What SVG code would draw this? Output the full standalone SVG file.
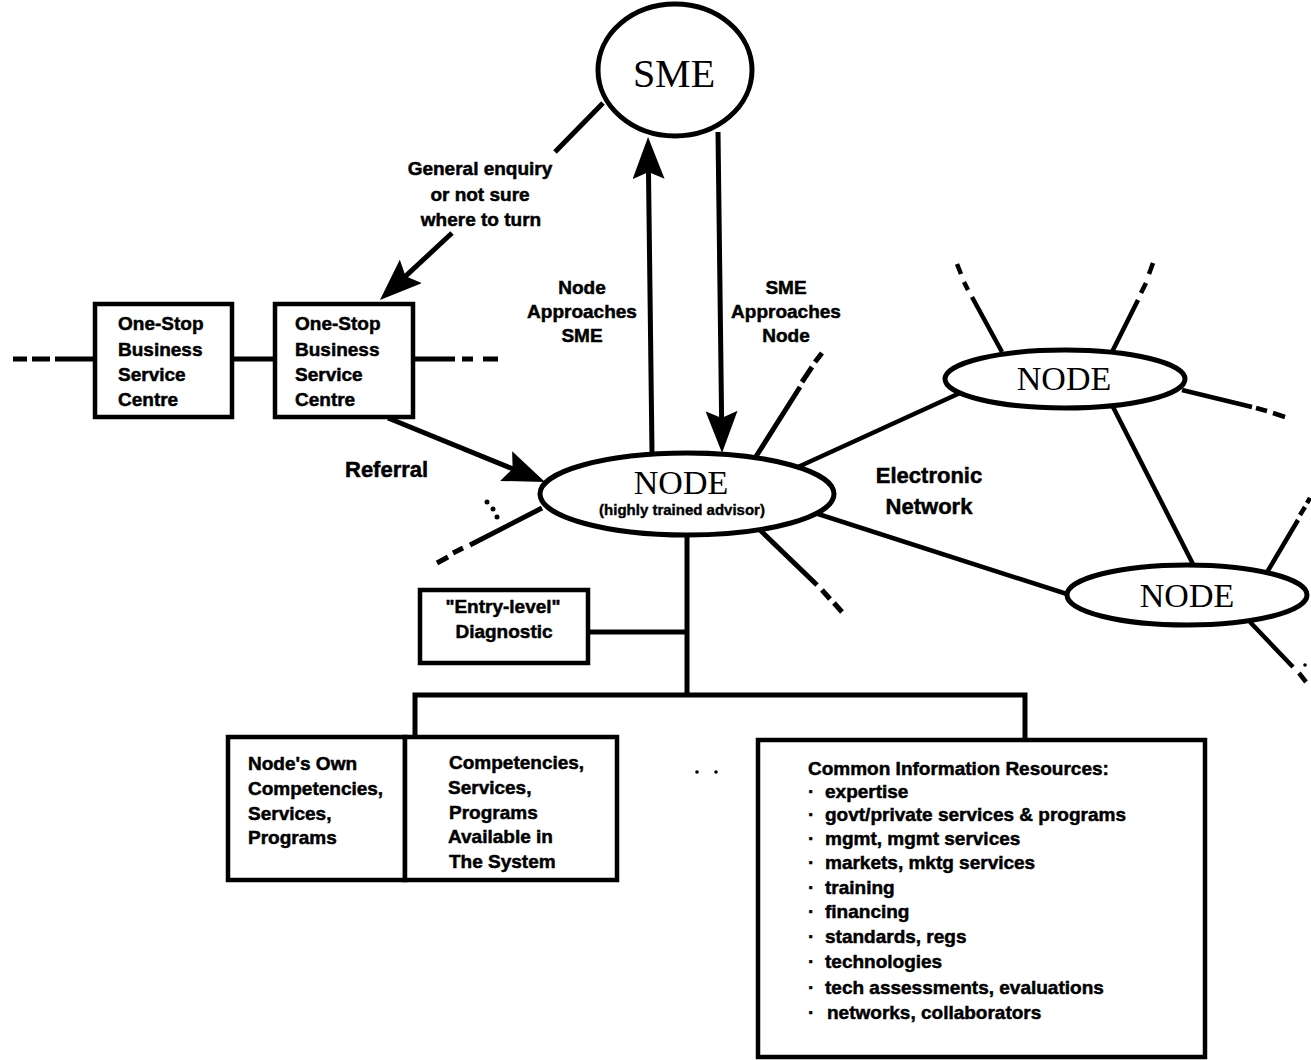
<svg xmlns="http://www.w3.org/2000/svg" width="1311" height="1060" viewBox="0 0 1311 1060">
<defs>
<style>
.ln{stroke:#000;stroke-width:5;fill:none;stroke-linecap:butt}
.net{stroke-width:4.5}
.shape{fill:#fff;stroke:#000;stroke-width:5}
.box{fill:#fff;stroke:#000;stroke-width:4.5}
.lbl{font-family:"Liberation Sans",Arial,sans-serif;font-weight:700;font-size:19px;fill:#000;stroke:#000;stroke-width:0.5}
.big{font-size:22px}
.tiny{font-size:15px;stroke-width:0.4}
.mid{text-anchor:middle}
.serif{font-family:"Liberation Serif","Times New Roman",serif;fill:#000;text-anchor:middle}
.dot{fill:#000}
</style>
<marker id="head" viewBox="0 0 42 32" markerWidth="42" markerHeight="32" refX="22" refY="16" orient="auto" markerUnits="userSpaceOnUse">
<path d="M0,0 L42,16 L0,32 L7,16 z" fill="#000"/>
</marker>
</defs>
<rect width="1311" height="1060" fill="#fff"/>

<!-- connectors -->
<g id="connectors">
  <!-- SME side: enquiry leader and arrow into the service centre -->
  <path class="ln" d="M603,103 L555,152"/>
  <path class="ln" d="M452,233 L394.6,286.4" marker-end="url(#head)"/>
  <!-- node approaches SME / SME approaches node -->
  <path class="ln" d="M652,453 L648.3,157" marker-end="url(#head)"/>
  <path class="ln" d="M718,132 L721.8,433" marker-end="url(#head)"/>
  <!-- referral -->
  <path class="ln" d="M388,418 L526.5,474.4" marker-end="url(#head)"/>
  <!-- chain of service centres -->
  <path class="ln" d="M13,359 H27 M32,359 H50 M55,359 H95"/>
  <path class="ln" d="M232,359 H275"/>
  <path class="ln" d="M413,359 H455 M462,359 H473 M483,359 H498"/>
  <!-- spokes of the central node -->
  <path class="ln" d="M755,458 L800,387 M802,382 L812,367 M815,362 L822,353"/>
  <path class="ln" d="M760,530 L817,585 M822,590 L830,599 M834,603 L842,612"/>
  <path class="ln" d="M542,508 L470,545 M463,548 L453,553 M448,557 L437,563"/>
  <circle class="dot" cx="487" cy="502" r="2.5"/>
  <circle class="dot" cx="493" cy="509" r="2.5"/>
  <circle class="dot" cx="497" cy="517" r="2.5"/>
  <!-- electronic network -->
  <path class="ln net" d="M798,467 L960,393"/>
  <path class="ln net" d="M815,513 L1070,595"/>
  <path class="ln net" d="M1112,405 L1196,570"/>
  <!-- spokes of the upper node -->
  <path class="ln net" d="M1002,352 L972,297 M968,290 L964,282 M961,274 L957,264"/>
  <path class="ln net" d="M1112,352 L1138,300 M1141,293 L1146,283 M1149,274 L1153,263"/>
  <path class="ln net" d="M1182,390 L1252,407 M1256,408 L1267,411 M1273,413 L1285,417"/>
  <!-- spokes of the lower node -->
  <path class="ln net" d="M1266,574 L1298,520 M1300,515 L1305,507 M1307,503 L1310,498"/>
  <path class="ln net" d="M1250,622 L1293,667 M1299,673 L1306,682"/>
  <circle class="dot" cx="1305" cy="665" r="1.8"/>
  <!-- node to its resources -->
  <path class="ln" d="M687,530 V695"/>
  <path class="ln" d="M588,632 H687"/>
  <path class="ln" d="M415,737 V695 H1025 V740"/>
  <circle class="dot" cx="697" cy="772" r="1.8"/>
  <circle class="dot" cx="716" cy="772" r="1.8"/>
</g>

<g id="sme">
  <ellipse class="shape" cx="675" cy="70" rx="77" ry="66"/>
  <text class="serif" x="674" y="87" font-size="40">SME</text>
</g>

<g id="enquiry-label">
  <text class="lbl mid" x="480" y="175">General enquiry</text>
  <text class="lbl mid" x="480" y="201">or not sure</text>
  <text class="lbl mid" x="481" y="226">where to turn</text>
</g>

<g id="node-approaches-label">
  <text class="lbl mid" x="582" y="294">Node</text>
  <text class="lbl mid" x="582" y="318">Approaches</text>
  <text class="lbl mid" x="582" y="342">SME</text>
</g>

<g id="sme-approaches-label">
  <text class="lbl mid" x="786" y="294">SME</text>
  <text class="lbl mid" x="786" y="318">Approaches</text>
  <text class="lbl mid" x="786" y="342">Node</text>
</g>

<g id="centre-1">
  <rect class="box" x="95" y="304" width="137" height="113"/>
  <text class="lbl" x="118" y="330">One-Stop</text>
  <text class="lbl" x="118" y="356">Business</text>
  <text class="lbl" x="118" y="381">Service</text>
  <text class="lbl" x="118" y="406">Centre</text>
</g>

<g id="centre-2">
  <rect class="box" x="275" y="304" width="138" height="113"/>
  <text class="lbl" x="295" y="330">One-Stop</text>
  <text class="lbl" x="295" y="356">Business</text>
  <text class="lbl" x="295" y="381">Service</text>
  <text class="lbl" x="295" y="406">Centre</text>
</g>

<g id="referral-label">
  <text class="lbl big" x="345" y="477">Referral</text>
</g>

<g id="node-main">
  <ellipse class="shape" cx="687" cy="494" rx="147" ry="41"/>
  <text class="serif" x="681" y="494" font-size="34">NODE</text>
  <text class="lbl tiny mid" x="682" y="515">(highly trained advisor)</text>
</g>

<g id="network-label">
  <text class="lbl big mid" x="929" y="483">Electronic</text>
  <text class="lbl big mid" x="929" y="514">Network</text>
</g>

<g id="node-upper">
  <ellipse class="shape" cx="1065" cy="379" rx="120" ry="29"/>
  <text class="serif" x="1064" y="390" font-size="34">NODE</text>
</g>

<g id="node-lower">
  <ellipse class="shape" cx="1187" cy="595" rx="120" ry="30"/>
  <text class="serif" x="1187" y="607" font-size="34">NODE</text>
</g>

<g id="diagnostic">
  <rect class="box" x="420" y="590" width="168" height="73"/>
  <text class="lbl mid" x="503" y="613">"Entry-level"</text>
  <text class="lbl mid" x="504" y="638">Diagnostic</text>
</g>

<g id="own-competencies">
  <rect class="box" x="228" y="737" width="177" height="143"/>
  <text class="lbl" x="248" y="770">Node's Own</text>
  <text class="lbl" x="248" y="795">Competencies,</text>
  <text class="lbl" x="248" y="820">Services,</text>
  <text class="lbl" x="248" y="844">Programs</text>
</g>

<g id="system-competencies">
  <rect class="box" x="405" y="737" width="212" height="143"/>
  <text class="lbl" x="449" y="769">Competencies,</text>
  <text class="lbl" x="448" y="794">Services,</text>
  <text class="lbl" x="449" y="819">Programs</text>
  <text class="lbl" x="448" y="843">Available in</text>
  <text class="lbl" x="449" y="868">The System</text>
</g>

<g id="common-resources">
  <rect class="box" x="758" y="740" width="447" height="317"/>
  <text class="lbl" x="808" y="775">Common Information Resources:</text>
  <text class="lbl" x="808" y="798">·<tspan x="825">expertise</tspan></text>
  <text class="lbl" x="808" y="821">·<tspan x="825">govt/private services &amp; programs</tspan></text>
  <text class="lbl" x="808" y="845">·<tspan x="825">mgmt, mgmt services</tspan></text>
  <text class="lbl" x="808" y="869">·<tspan x="825">markets, mktg services</tspan></text>
  <text class="lbl" x="808" y="894">·<tspan x="825">training</tspan></text>
  <text class="lbl" x="808" y="918">·<tspan x="825">financing</tspan></text>
  <text class="lbl" x="808" y="943">·<tspan x="825">standards, regs</tspan></text>
  <text class="lbl" x="808" y="968">·<tspan x="825">technologies</tspan></text>
  <text class="lbl" x="808" y="994">·<tspan x="825">tech assessments, evaluations</tspan></text>
  <text class="lbl" x="808" y="1019">·<tspan x="827">networks, collaborators</tspan></text>
</g>
</svg>
